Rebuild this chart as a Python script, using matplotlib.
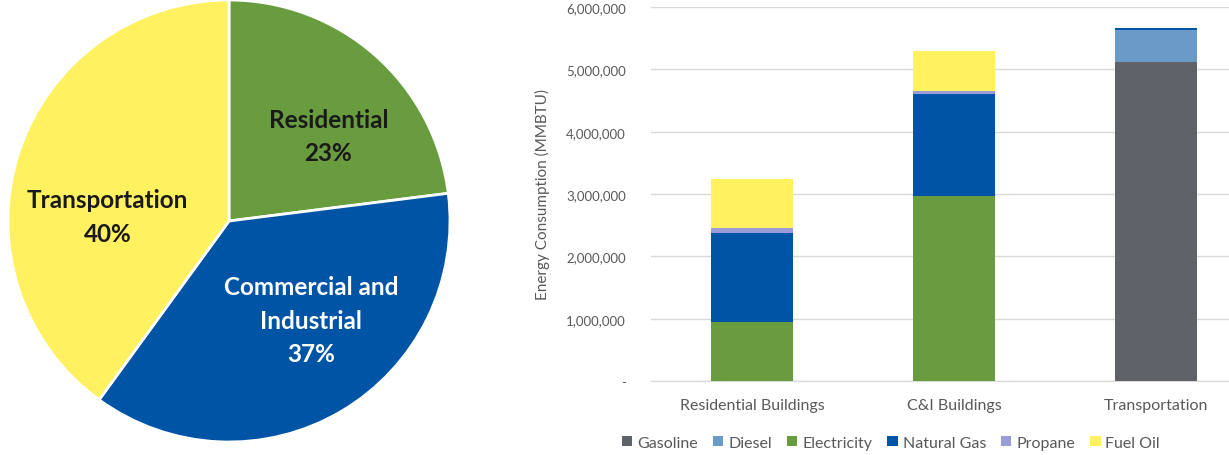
import matplotlib.pyplot as plt
from matplotlib.ticker import FuncFormatter
import numpy as np

plt.rcParams['font.family'] = ['Lato', 'DejaVu Sans']

# pie data
sectors = ['Residential', 'Commercial and\nIndustrial', 'Transportation']
shares = [23, 37, 40]
pie_colors = ['#699B3F', '#0054A6', '#FFF15F']
pie_text = ['#1a1a1a', 'white', '#1a1a1a']

# stacked bar data (MMBTU)
categories = ['Residential Buildings', 'C&I Buildings', 'Transportation']
fuels = ['Gasoline', 'Diesel', 'Electricity', 'Natural Gas', 'Propane', 'Fuel Oil']
gasoline = [0, 0, 5120000]
diesel = [0, 0, 510000]
electricity = [950000, 2960000, 0]
natural_gas = [1420000, 1640000, 30000]
propane = [80000, 50000, 0]
fuel_oil = [790000, 640000, 0]
fuel_colors = ['#5F6369', '#6A9BC8', '#699B3F', '#0054A6', '#9B9BDA', '#FFF15F']

W, H = 1229, 456
fig = plt.figure(figsize=(W / 100, H / 100), dpi=100)

# ---- pie ----
cx, cy, r = 229, 222, 221
ax1 = fig.add_axes([(cx - r) / W, (H - cy - r) / H, 2 * r / W, 2 * r / H])
wedges, _ = ax1.pie(shares, colors=pie_colors, startangle=90, counterclock=False,
                    radius=1, wedgeprops=dict(edgecolor='white', linewidth=2))
ax1.set_xlim(-1, 1)
ax1.set_ylim(-1, 1)
ax1.set_aspect('auto')
ax1.axis('off')
label_pos = [(0.45, 0.385), (0.37, -0.45), (-0.55, 0.02)]
for name, s, (x, y), c in zip(sectors, shares, label_pos, pie_text):
    ax1.text(x, y, f'{name}\n{s}%', ha='center', va='center', color=c,
             fontsize=17.5, fontweight='bold', linespacing=1.55)

# ---- stacked bars ----
x0, x1, ytop, ybot = 651, 1229, 8, 382
ax2 = fig.add_axes([x0 / W, (H - ybot) / H, (x1 - x0) / W, (ybot - ytop) / H])
cat_w = 202
xpos = np.arange(len(categories))
series = [gasoline, diesel, electricity, natural_gas, propane, fuel_oil]
bottom = np.zeros(len(categories))
for name, vals, col in zip(fuels, series, fuel_colors):
    ax2.bar(xpos, vals, width=0.41, bottom=bottom, color=col, label=name, zorder=3)
    bottom += np.array(vals)

ax2.set_xlim(-0.5, -0.5 + (x1 - x0) / cat_w)
ax2.set_ylim(0, 6000000)
ax2.set_yticks(np.arange(0, 6000001, 1000000))
ax2.yaxis.set_major_formatter(FuncFormatter(lambda v, p: '-' if v == 0 else f'{int(v):,}'))
ax2.set_xticks(xpos)
ax2.set_xticklabels(categories)
ax2.grid(axis='y', color='#D9D9D9', linewidth=1, zorder=0)
for s in ['top', 'right', 'left']:
    ax2.spines[s].set_visible(False)
ax2.spines['bottom'].set_color('#D9D9D9')
ax2.tick_params(axis='both', length=0, colors='#595959')
ax2.tick_params(axis='x', pad=12, labelsize=11.5)
ax2.tick_params(axis='y', pad=18, labelsize=9.5)
ax2.set_ylabel('Energy Consumption (MMBTU)', color='#595959', fontsize=11, labelpad=12)

ax2.legend(loc='center', bbox_to_anchor=((891 - x0) / (x1 - x0), -0.165), ncol=6,
           frameon=False, fontsize=11.5, labelcolor='#595959', handlelength=0.65,
           handleheight=0.65, handletextpad=0.3, columnspacing=0.95)

fig.savefig('out.png', dpi=100)
